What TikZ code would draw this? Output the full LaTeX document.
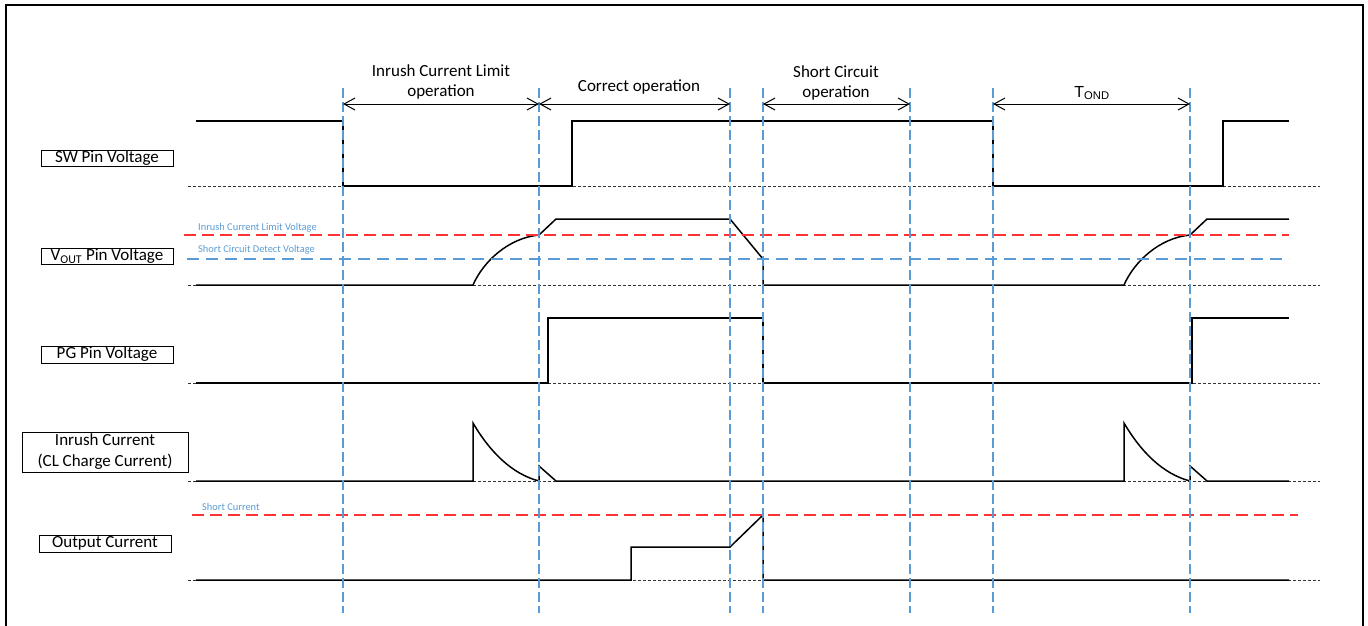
\documentclass[tikz,border=0pt]{standalone}
\usepackage{fontspec}
\setmainfont{Carlito}
\newfontfamily\arialf{Liberation Sans}
\usetikzlibrary{arrows.meta}
\definecolor{guideblue}{RGB}{91,155,213}
\definecolor{limitred}{RGB}{255,51,51}
\begin{document}
\begin{tikzpicture}[x=1pt,y=-1pt,
  wave/.style={line width=1.5pt, black, line join=miter},
  baseln/.style={line width=0.6pt, black!80, dash pattern=on 3pt off 2pt},
  vguide/.style={guideblue, line width=1.4pt, dash pattern=on 10pt off 4pt},
  hblue/.style={guideblue, line width=1.2pt, dash pattern=on 12pt off 7pt},
  hred/.style={limitred, line width=1.6pt, dash pattern=on 12pt off 6pt},
  sigbox/.style={draw, line width=0.8pt, inner sep=0pt, align=center,
    font=\fontsize{17}{21}\selectfont, minimum width=132pt, minimum height=16pt},
  toplbl/.style={inner sep=0pt, align=center, font=\fontsize{17}{20.5}\selectfont},
  smalllbl/.style={inner sep=0pt, anchor=west, text=guideblue, font=\fontsize{10.4}{12}\selectfont},
  dimarr/.style={line width=1pt, {Straight Barb[length=11pt,width=12pt]}-{Straight Barb[length=11pt,width=12pt]}}
]
\useasboundingbox (0,0) rectangle (1368,625);
% frame
\draw[line width=1.5pt] (6,630) -- (6,5) -- (1363,5) -- (1363,630);

% label boxes
\node[sigbox] (sw) at (107,158) {SW Pin Voltage};
\node[sigbox] (vout) at (107,256) {V\textsubscript{OUT} Pin Voltage};
\node[sigbox, minimum height=17pt] (pg) at (107,354.5) {PG Pin Voltage};
\node[sigbox, minimum width=166pt, minimum height=40pt] (inr) at (105,452) {Inrush Current\\(CL Charge Current)};
\node[sigbox, minimum height=17pt] (outc) at (105,543.5) {Output Current};

% baselines
\foreach \yy in {186,285,383,481,580}
  \draw[baseln] (188,\yy) -- (1320,\yy);

% waveforms
\draw[wave] (196,121) -- (343,121) -- (343,186) -- (572,186) -- (572,121) -- (993,121)
  -- (993,186) -- (1223,186) -- (1223,121) -- (1289,121);
\draw[wave] (196,285) -- (473,285) .. controls (483,262) and (508,238) .. (539,235)
  -- (556,219) -- (730,219) -- (763,259) -- (763,285) -- (1124,285)
  .. controls (1134,262) and (1159,238) .. (1190,235) -- (1207,219) -- (1289,219);
\draw[wave] (196,383) -- (548,383) -- (548,318) -- (763,318) -- (763,383) -- (1192,383)
  -- (1192,318) -- (1289,318);
\draw[wave] (196,481) -- (473,481) -- (473,423) .. controls (490,452) and (512,474) .. (539,481)
  -- (539,466) -- (556,481) -- (1124,481) -- (1124,423) .. controls (1141,452) and (1163,474) .. (1190,481)
  -- (1190,466) -- (1207,481) -- (1289,481);
\draw[wave] (196,580) -- (631,580) -- (631,547) -- (730,547) -- (763,515) -- (763,580) -- (1289,580);

% threshold lines
\draw[hred] (184,235) -- (1289,235);
\draw[hblue] (187,259) -- (1289,259);
\draw[hred] (192,515) -- (1298,515);
\node[smalllbl] (ilv) at (198,228) {Inrush Current Limit Voltage};
\node[smalllbl] (scv) at (198,250) {Short Circuit Detect Voltage};
\node[smalllbl] (sc) at (202,507) {Short Current};

% vertical guides
\foreach \n/\xx in {1/343,2/539,3/730,4/763,5/910,6/993,7/1190}{
  \coordinate (t\n) at (\xx,88);
  \coordinate (b\n) at (\xx,613);
  \coordinate (a\n) at (\xx,104);
  \draw[vguide] (t\n) -- (b\n);
}

% dimension arrows
\draw[dimarr] (a1) -- (a2);
\draw[dimarr] (a2) -- (a3);
\draw[dimarr] (a4) -- (a5);
\draw[dimarr] (a6) -- (a7);

\node[toplbl] (l1) at (441,82) {Inrush Current Limit\\operation};
\node[toplbl] (l2) at (639,87) {Correct operation};
\node[toplbl] (l3) at (836,83) {Short Circuit\\operation};
\node[inner sep=0pt, font=\arialf\fontsize{16}{18}\selectfont] (l4) at (1092,93) {T\textsubscript{OND}};
\end{tikzpicture}
\end{document}
